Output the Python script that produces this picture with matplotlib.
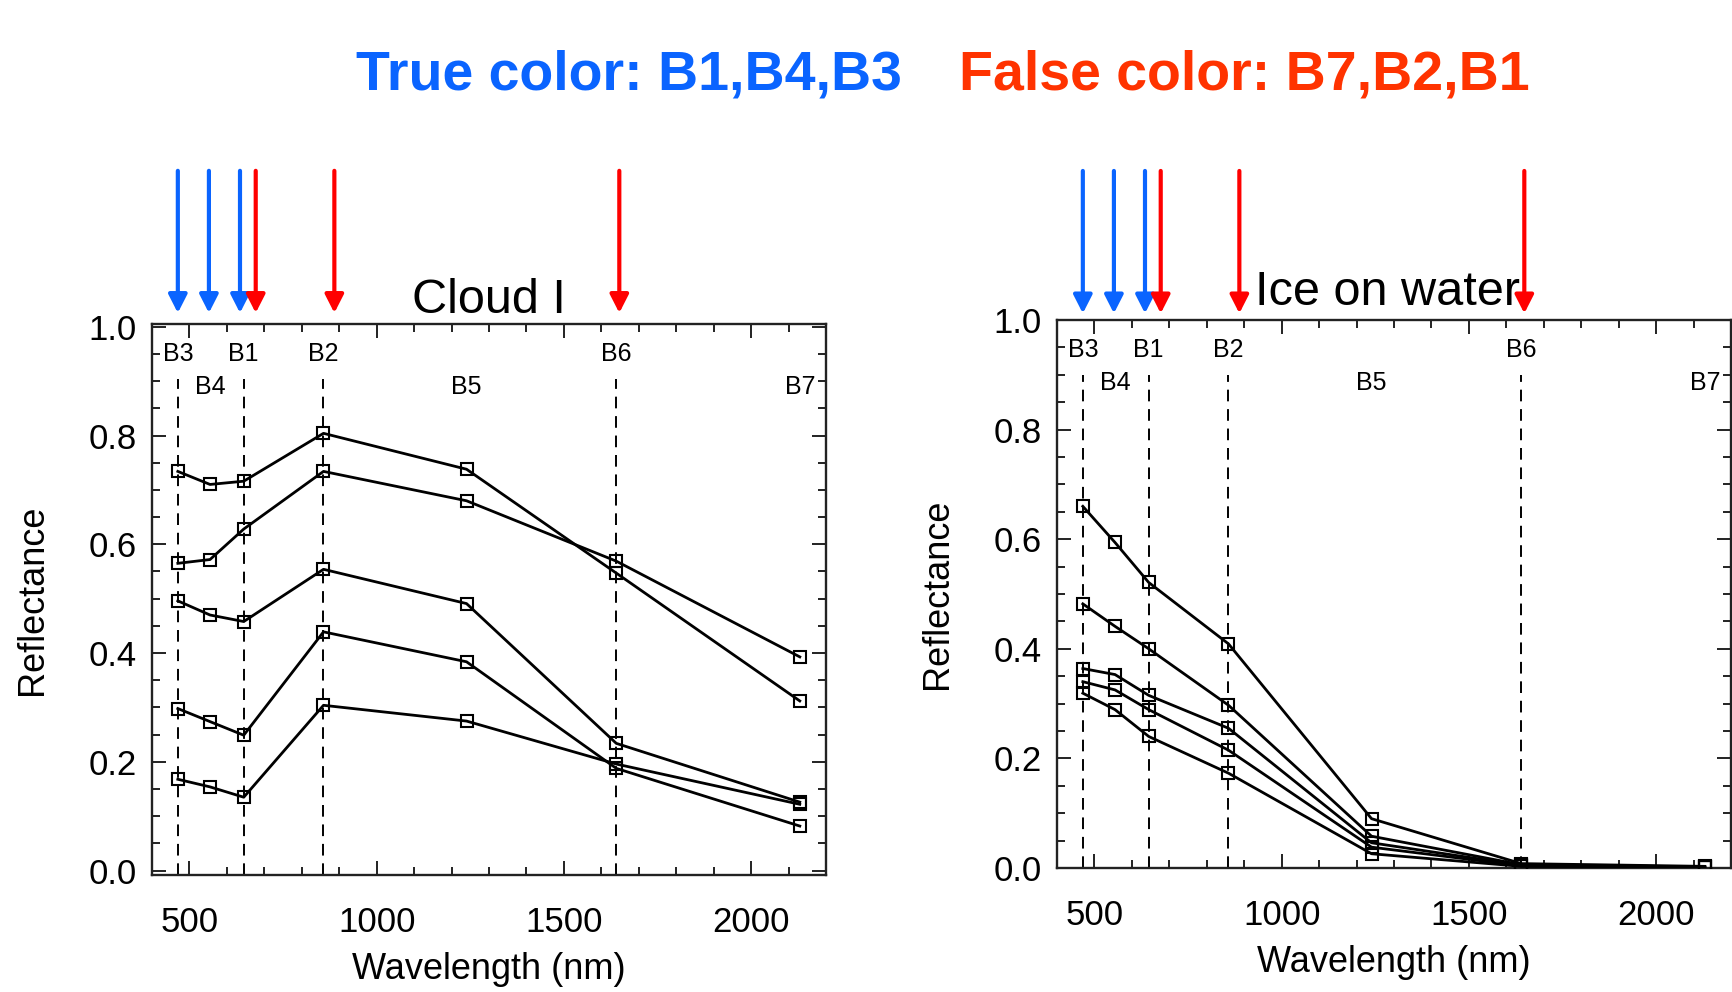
import matplotlib
matplotlib.use('Agg')
import matplotlib.pyplot as plt
from matplotlib.ticker import MultipleLocator, FormatStrFormatter

plt.rcParams['font.family'] = ['Liberation Sans', 'DejaVu Sans']

# band centres (nm), in the order they sit on the x axis
wl = [469, 555, 645, 858, 1240, 1640, 2130]
bands = ['B3', 'B4', 'B1', 'B2', 'B5', 'B6', 'B7']
upper_row = ['B3', 'B1', 'B2', 'B6']
lower_row = ['B4', 'B5', 'B7']
dashed_at = [469, 645, 858, 1640]

# Cloud I spectra
cloud_1 = [0.734, 0.710, 0.716, 0.804, 0.738, 0.547, 0.312]
cloud_2 = [0.565, 0.572, 0.628, 0.734, 0.680, 0.569, 0.393]
cloud_3 = [0.496, 0.470, 0.458, 0.554, 0.491, 0.234, 0.126]
cloud_4 = [0.298, 0.274, 0.249, 0.439, 0.384, 0.188, 0.082]
cloud_5 = [0.168, 0.154, 0.135, 0.304, 0.275, 0.196, 0.122]

# Ice on water spectra
ice_1 = [0.660, 0.594, 0.521, 0.409, 0.090, 0.008, 0.003]
ice_2 = [0.482, 0.441, 0.400, 0.297, 0.058, 0.006, 0.002]
ice_3 = [0.364, 0.353, 0.315, 0.255, 0.046, 0.005, 0.002]
ice_4 = [0.340, 0.325, 0.289, 0.215, 0.038, 0.004, 0.001]
ice_5 = [0.319, 0.289, 0.240, 0.173, 0.026, 0.003, 0.001]

# arrow positions (nm)
blue_arrows = [469, 552, 635]
red_arrows = [677, 887, 1648]

BLUE = '#0A64FF'
RED = '#FF0000'

fig = plt.figure(figsize=(17.32, 9.92), dpi=100)
ax1 = fig.add_axes([152/1732, 1-875/992, 674/1732, 551/992])
ax2 = fig.add_axes([1057/1732, 1-868/992, 674/1732, 548/992])


def panel(ax, series, title, tx, ty, tail, tip):
    ax.set_xlim(400, 2200)
    ax.set_ylim(0, 1)
    for s in series:
        ax.plot(wl, s, color='k', lw=2.0, marker='s', ms=8.5,
                mfc='none', mec='k', mew=1.5, zorder=3)
    for x in dashed_at:
        ax.axvline(x, ymin=0, ymax=0.9, color='k', lw=1.4, ls=(0, (6, 4)))
    tr = ax.get_xaxis_transform()
    for b, x in zip(bands, wl):
        y = 0.945 if b in upper_row else 0.885
        ax.text(x, y, b, transform=tr, ha='center', va='center', fontsize=18)

    ax.xaxis.set_major_locator(MultipleLocator(500))
    ax.xaxis.set_minor_locator(MultipleLocator(100))
    ax.yaxis.set_major_locator(MultipleLocator(0.2))
    ax.yaxis.set_minor_locator(MultipleLocator(0.05))
    ax.yaxis.set_major_formatter(FormatStrFormatter('%.1f'))
    ax.tick_params(which='both', direction='in', top=True, right=True,
                   width=1.4, color='#222222')
    ax.tick_params(which='major', length=10, labelsize=25)
    ax.tick_params(axis='x', which='major', pad=22)
    ax.tick_params(axis='y', which='major', pad=11)
    ax.tick_params(which='minor', length=5.5)
    for sp in ax.spines.values():
        sp.set_linewidth(1.7)
        sp.set_color('#222222')

    ax.set_xlabel('Wavelength (nm)', fontsize=26, labelpad=10)
    ax.set_ylabel('Reflectance', fontsize=26, labelpad=28)
    ax.text(tx, ty, title, transform=ax.transAxes, ha='center',
            va='baseline', fontsize=35)

    for xs, c in ((blue_arrows, BLUE), (red_arrows, RED)):
        for x in xs:
            ax.annotate('', xy=(x, tip), xytext=(x, tail), xycoords=tr,
                        textcoords=tr, annotation_clip=False, zorder=5,
                        arrowprops=dict(arrowstyle='-|>,head_length=0.55,head_width=0.28',
                                        color=c, lw=3, mutation_scale=20,
                                        shrinkA=0, shrinkB=0))


panel(ax1, [cloud_1, cloud_2, cloud_3, cloud_4, cloud_5], 'Cloud I',
      0.5, 1.02, 1.278, 1.02)
panel(ax2, [ice_1, ice_2, ice_3, ice_4, ice_5], 'Ice on water',
      0.49, 1.027, 1.272, 1.012)
ax1.set_ylim(-0.008, 1.005)

fig.text(356/1732, 1-75/992, 'True color: B1,B4,B3', color=BLUE,
         fontsize=40, fontweight='bold', va='center', ha='left')
fig.text(959/1732, 1-75/992, 'False color: B7,B2,B1', color='#FF3300',
         fontsize=40, fontweight='bold', va='center', ha='left')

fig.savefig('out.png', dpi=100)
